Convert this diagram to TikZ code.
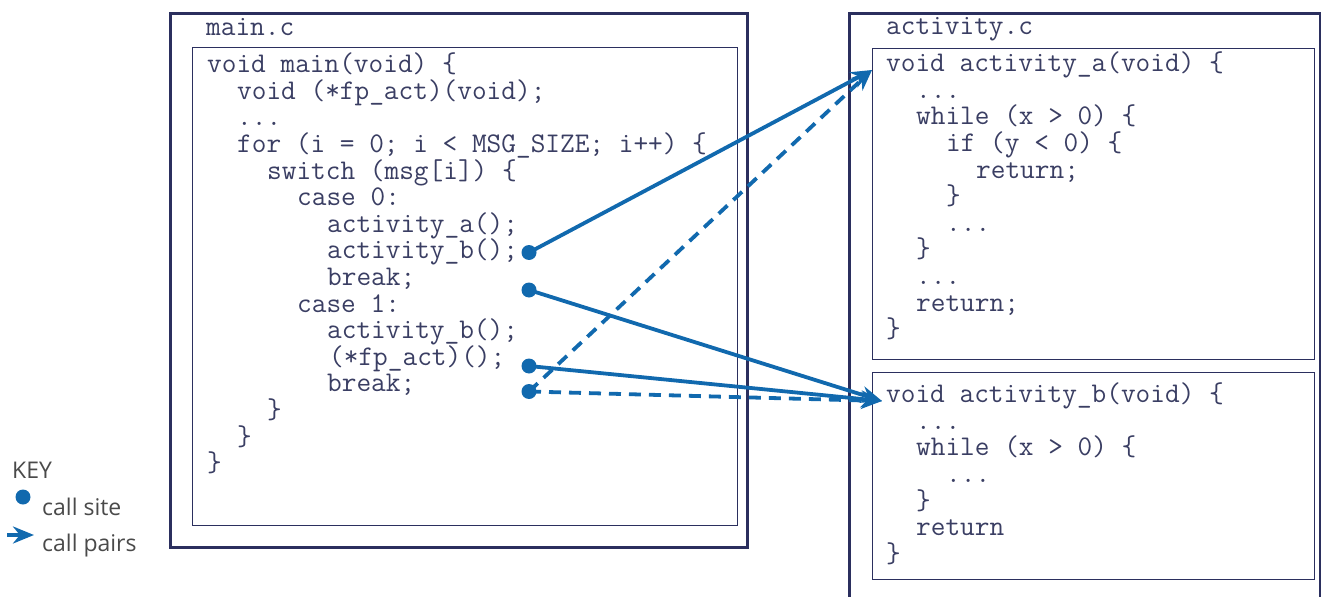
\documentclass[tikz,border=0pt]{standalone}
\usepackage{fontspec}
\setsansfont{Open Sans}
\usetikzlibrary{arrows.meta}
\definecolor{navy}{HTML}{2B2F5E}
\definecolor{codetext}{HTML}{3A3E63}
\definecolor{callblue}{HTML}{1169AE}
\definecolor{keygray}{HTML}{4A4A4A}
\tikzset{
  code/.style={anchor=base west, inner sep=0pt, font=\fontsize{28.5bp}{30bp}\ttfamily, text=codetext},
  outerbox/.style={draw=navy, line width=2.6bp, anchor=north west, inner sep=0pt},
  innerbox/.style={draw=navy, line width=1.3bp, anchor=north west, inner sep=0pt},
  site/.style={circle, fill=callblue, inner sep=0pt, minimum size=15bp},
  call/.style={draw=callblue, line width=3.8bp, -{Stealth[length=21bp, width=17bp]}},
  calldash/.style={call, dash pattern=on 12bp off 8bp},
  keytext/.style={anchor=base west, inner sep=0pt, font=\fontsize{23bp}{26bp}\sffamily, text=keygray},
}
\begin{document}
\begin{tikzpicture}[x=1bp,y=-1bp]
\useasboundingbox (0,0) rectangle (1321,597);
% boxes
\node[outerbox, minimum width=577bp, minimum height=534bp] (mainouter) at (169,12) {};
\node[innerbox, minimum width=545bp, minimum height=478bp] (maininner) at (192,47) {};
\node[outerbox, minimum width=471bp, minimum height=620bp] (actouter) at (848,12) {};
\node[innerbox, minimum width=442bp, minimum height=311bp] (boxa) at (872,48) {};
\node[innerbox, minimum width=442bp, minimum height=207bp] (boxb) at (872,372) {};
% main.c
\node[code] (mainlabel) at (206,36) {main.c};
\node[code] (m0) at (207,72.7) {void main(void) \{};
\node[code] (m1) at (237,99.3) {void (*fp\_act)(void);};
\node[code] (m2) at (237,125.9) {...};
\node[code] (m3) at (237,152.5) {for (i = 0; i < MSG\_SIZE; i++) \{};
\node[code] (m4) at (267,179.1) {switch (msg[i]) \{};
\node[code] (m5) at (297,205.7) {case 0:};
\node[code] (m6) at (327,232.3) {activity\_a();};
\node[code] (m7) at (327,258.9) {activity\_b();};
\node[code] (m8) at (327,285.5) {break;};
\node[code] (m9) at (297,312.1) {case 1:};
\node[code] (m10) at (327,338.7) {activity\_b();};
\node[code] (m11) at (329,365.3) {(*fp\_act)();};
\node[code] (m12) at (327,391.9) {break;};
\node[code] (m13) at (267,418.5) {\}};
\node[code] (m14) at (237,445.1) {\}};
\node[code] (m15) at (207,471.7) {\}};
% activity.c
\node[code] (actlabel) at (886,35) {activity.c};
\node[code] (a0) at (886,71.7) {void activity\_a(void) \{};
\node[code] (a1) at (916,98.3) {...};
\node[code] (a2) at (916,124.9) {while (x > 0) \{};
\node[code] (a3) at (946,151.5) {if (y < 0) \{};
\node[code] (a4) at (976,178.1) {return;};
\node[code] (a5) at (946,204.7) {\}};
\node[code] (a6) at (946,231.3) {...};
\node[code] (a7) at (916,257.9) {\}};
\node[code] (a8) at (916,284.5) {...};
\node[code] (a9) at (916,311.1) {return;};
\node[code] (a10) at (886,337.7) {\}};
\node[code] (b0) at (886,402.7) {void activity\_b(void) \{};
\node[code] (b1) at (916,429.3) {...};
\node[code] (b2) at (916,455.9) {while (x > 0) \{};
\node[code] (b3) at (946,482.5) {...};
\node[code] (b4) at (916,509.1) {\}};
\node[code] (b5) at (916,535.7) {return};
\node[code] (b6) at (886,562.3) {\}};
% call sites
\node[site] (s1) at (529,252.5) {};
\node[site] (s2) at (529,290) {};
\node[site] (s3) at (529,366) {};
\node[site] (s4) at (529,391.5) {};
\coordinate (ta) at (872,70);
\coordinate (tb) at (882,401);
% call pairs
\draw[call] (s1.center) -- (ta);
\draw[calldash] (s4.center) -- (ta);
\draw[call] (s2.center) -- (tb);
\draw[call] (s3.center) -- (tb);
\draw[calldash] (s4.center) -- (tb);
% key
\node[keytext] (keylabel) at (12,478) {KEY};
\node[site] (ksite) at (23,497) {};
\node[keytext] (ksitelabel) at (42,515) {call site};
\coordinate (kstart) at (7,535);
\coordinate (kend) at (34,535);
\draw[call] (kstart) -- (kend);
\node[keytext] (kpairlabel) at (42,551) {call pairs};
\end{tikzpicture}
\end{document}
